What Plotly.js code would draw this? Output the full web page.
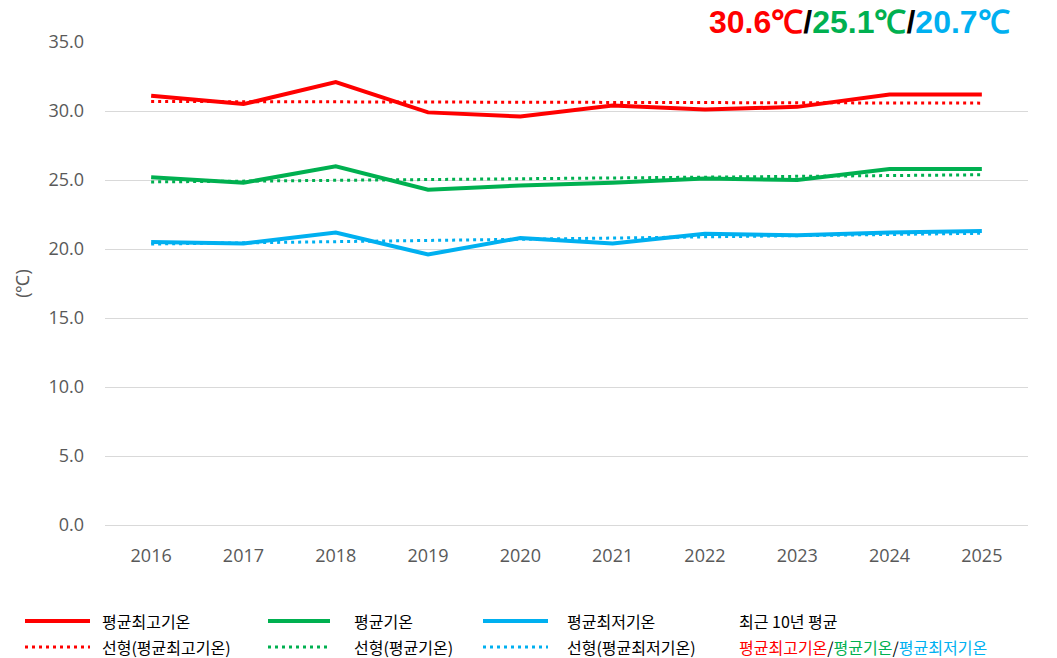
<!DOCTYPE html>
<html>
<head>
<meta charset="utf-8">
<script src="https://cdn.plot.ly/plotly-3.0.1.min.js"></script>
<style>html,body{margin:0;padding:0;background:#fff;}#chart{width:1057px;height:658px;}</style>
</head>
<body>
<div id="chart"></div>
<script>
// ---- data ----
const years = ['2016','2017','2018','2019','2020','2021','2022','2023','2024','2025'];
const avgMax = [31.1, 30.5, 32.1, 29.9, 29.6, 30.4, 30.1, 30.3, 31.2, 31.2];
const avgMean = [25.2, 24.8, 26.0, 24.3, 24.6, 24.8, 25.1, 25.0, 25.8, 25.8];
const avgMin = [20.5, 20.4, 21.2, 19.6, 20.8, 20.4, 21.1, 21.0, 21.2, 21.3];
const trendYears = ['2016','2025'];
const trendMax = [30.69, 30.57];
const trendMean = [24.86, 25.38];
const trendMin = [20.36, 21.14];
const seriesNames = ['평균최고기온','평균기온','평균최저기온'];
const trendNames = ['선형(평균최고기온)','선형(평균기온)','선형(평균최저기온)'];
const tenYearAvg = ['30.6℃','25.1℃','20.7℃'];
const yTicks = [0,5,10,15,20,25,30,35];

// ---- style ----
const colors = ['#FF0000','#00B050','#00B0F0'];
const solids = [avgMax, avgMean, avgMin];
const trends = [trendMax, trendMean, trendMin];

const traces = [];
for (let i = 0; i < 3; i++) {
  traces.push({x: years, y: solids[i], type:'scatter', mode:'lines', name: seriesNames[i],
    line:{color: colors[i], width:4}, showlegend:false, hoverinfo:'x+y'});
  traces.push({x: trendYears, y: trends[i], type:'scatter', mode:'lines', name: trendNames[i],
    line:{color: colors[i], width:3, dash:'3px,4px'}, showlegend:false, hoverinfo:'skip'});
}

// layout geometry (pixels)
const W = 1057, H = 658, L = 105, R = 29, T = 42, B = 133;
const pw = W - L - R, ph = H - T - B;
const px = v => (v - L) / pw;
const py = v => (H - B - v) / ph;

const shapes = [], annotations = [];
const legFont = {family:'"Noto Sans CJK KR", "Noto Sans", sans-serif', size:16, color:'#000'};
const colsLine = [[25,90,100],[268,330,352],[483,548,565]];
const row1 = 621, row2 = 647;
for (let i = 0; i < 3; i++) {
  const [x0,x1,tx] = colsLine[i];
  shapes.push({type:'line', xref:'paper', yref:'paper', x0:px(x0), x1:px(x1), y0:py(row1), y1:py(row1),
    line:{color:colors[i], width:4}});
  shapes.push({type:'line', xref:'paper', yref:'paper', x0:px(x0), x1:px(x1), y0:py(row2), y1:py(row2),
    line:{color:colors[i], width:3, dash:'3px,4px'}});
  annotations.push({xref:'paper', yref:'paper', x:px(tx), y:py(row1), xanchor:'left', yanchor:'middle',
    text: seriesNames[i], showarrow:false, font:legFont});
  annotations.push({xref:'paper', yref:'paper', x:px(tx), y:py(row2), xanchor:'left', yanchor:'middle',
    text: trendNames[i], showarrow:false, font:legFont});
}
annotations.push({xref:'paper', yref:'paper', x:px(737), y:py(row1), xanchor:'left', yanchor:'middle',
  text:'최근 10년 평균', showarrow:false, font:legFont});
annotations.push({xref:'paper', yref:'paper', x:px(737), y:py(row2), xanchor:'left', yanchor:'middle',
  text: seriesNames.map((n,i)=>'<span style="color:'+colors[i]+'">'+n+'</span>').join('<span style="color:#000">/</span>'),
  showarrow:false, font:legFont});

// top-right averages
annotations.push({xref:'paper', yref:'paper', x:px(1012), y:py(22), xanchor:'right', yanchor:'middle',
  text: tenYearAvg.map((n,i)=>'<span style="color:'+colors[i]+'">'+n+'</span>').join('<span style="color:#000">/</span>'),
  showarrow:false, font:{family:'"Liberation Sans", Arial, sans-serif', size:32, color:'#000', weight:700}});

const layout = {
  width: W, height: H,
  margin: {l:L, r:R, t:T, b:B, pad:0},
  paper_bgcolor:'#fff', plot_bgcolor:'#fff',
  showlegend:false,
  xaxis: {type:'category', range:[-0.5, 9.5], showgrid:false, zeroline:false, showline:false, ticks:'',
    tickfont:{family:'"Open Sans", sans-serif', size:18, color:'#595959'}, ticklabelstandoff:18, fixedrange:true},
  yaxis: {range:[0,35], tickvals:yTicks, ticktext:yTicks.map(v=>v.toFixed(1)), showgrid:true, gridcolor:'#D9D9D9', gridwidth:1,
    zeroline:true, zerolinecolor:'#D9D9D9', zerolinewidth:1, showline:false, ticks:'',
    tickfont:{family:'"Open Sans", sans-serif', size:18, color:'#595959'}, ticklabelstandoff:20,
    title:{text:'(℃)', font:{family:'"Open Sans", sans-serif', size:18, color:'#595959'}, standoff:14}, fixedrange:true},
  shapes: shapes,
  annotations: annotations
};

Plotly.newPlot('chart', traces, layout, {displayModeBar:false, staticPlot:true});
</script>
</body>
</html>
